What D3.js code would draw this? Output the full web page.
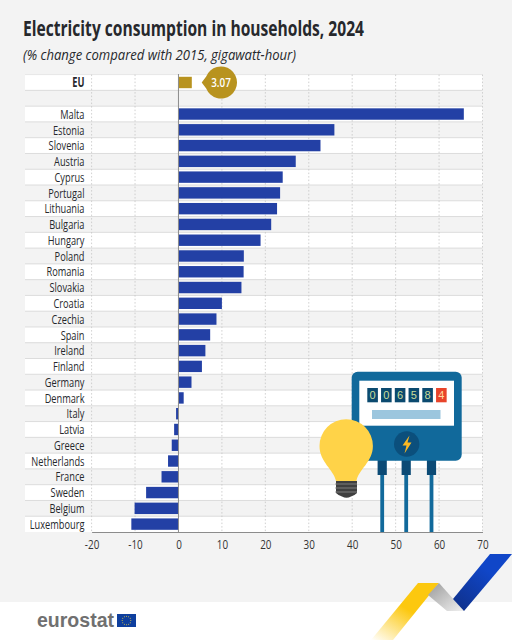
<!DOCTYPE html>
<html><head><meta charset="utf-8">
<script src="https://cdnjs.cloudflare.com/ajax/libs/d3/7.9.0/d3.min.js"></script>
<style>html,body{margin:0;padding:0;background:#fff}svg{display:block}
text{font-family:"Open Sans",sans-serif}</style></head>
<body><svg id="c" width="512" height="640"></svg>
<script>
const categories=["Malta","Estonia","Slovenia","Austria","Cyprus","Portugal","Lithuania","Bulgaria","Hungary","Poland","Romania","Slovakia","Croatia","Czechia","Spain","Ireland","Finland","Germany","Denmark","Italy","Latvia","Greece","Netherlands","France","Sweden","Belgium","Luxembourg"];
const values=[65.7,35.9,32.7,27,24,23.4,22.7,21.35,18.9,15.05,15,14.5,10,8.75,7.3,6.2,5.4,3,1.2,-0.55,-1,-1.55,-2.4,-3.9,-7.45,-10.1,-10.85];
const euLabel="EU", euValue=3.07;
const xTicks=[-20,-10,0,10,20,30,40,50,60,70];
const meterDigits=["0","0","6","5","8","4"];

const svg=d3.select("#c");
const x=d3.scaleLinear().domain([-20,70]).range([91.6,482.5]);
const rows=[euLabel,"__blank",...categories];
const y=d3.scaleBand().domain(rows).range([74.6,532]);
const bh=11.4, off=(y.bandwidth()-bh)/2;
const sx=0.69, tickSx=0.76;

svg.append("rect").attr("width",512).attr("height",602).attr("fill","#f3f3f3");

// stripes
svg.append("g").selectAll("rect").data(rows).join("rect")
 .attr("x",25).attr("width",457.5).attr("y",d=>y(d)).attr("height",y.bandwidth())
 .attr("fill",(d,i)=>i%2==0?"#ffffff":"#f3f3f3");
svg.append("g").selectAll("line").data(rows.slice(0,-1)).join("line")
 .attr("x1",25).attr("x2",482.5).attr("y1",d=>y(d)+y.bandwidth()).attr("y2",d=>y(d)+y.bandwidth())
 .attr("stroke","#dcdcdc").attr("stroke-width",1);
svg.append("line").attr("x1",25).attr("x2",482.5).attr("y1",74.6).attr("y2",74.6).attr("stroke","#e6e6e6");

// grid
svg.append("g").selectAll("line").data(xTicks.filter(d=>d!==0)).join("line")
 .attr("x1",d=>x(d)).attr("x2",d=>x(d)).attr("y1",74.6).attr("y2",532)
 .attr("stroke","#c4c4c4").attr("stroke-width",0.8).attr("stroke-dasharray","1.5 2");

// bars
svg.append("g").selectAll("rect").data(categories).join("rect")
 .attr("x",(d,i)=>Math.min(x(0),x(values[i]))).attr("width",(d,i)=>Math.abs(x(values[i])-x(0)))
 .attr("y",d=>y(d)+off).attr("height",bh).attr("fill","#2340a5");
svg.append("rect").attr("x",x(0)).attr("width",x(euValue)-x(0)).attr("y",y(euLabel)+off).attr("height",bh).attr("fill","#b8931f");

// zero & bottom axis
svg.append("line").attr("x1",x(0)).attr("x2",x(0)).attr("y1",74).attr("y2",532).attr("stroke","#8c8c8c").attr("stroke-width",1);
const ax=svg.append("g").attr("transform","translate(0,532)").call(d3.axisBottom(x).tickValues(xTicks).tickSize(0).tickFormat(d=>String(d)));
ax.select(".domain").attr("stroke","#8c8c8c").attr("stroke-width",1);
ax.selectAll("line").remove();
ax.selectAll("text").attr("y",0).attr("dy",0).attr("font-size",13).attr("fill","#333").attr("text-anchor","middle")
 .attr("transform",`translate(0,16.5) scale(${tickSx},1)`);

// category labels
svg.append("g").selectAll("text").data(rows.filter(d=>d!=="__blank")).join("text")
 .attr("transform",d=>`translate(84.5,${y(d)+y.bandwidth()/2+4.7}) scale(${sx},1)`).attr("text-anchor","end")
 .attr("font-size",13.4).attr("fill","#26282c").attr("font-weight",d=>d===euLabel?"700":"400").text(d=>d);

// EU callout
const ey=y(euLabel)+y.bandwidth()/2;
svg.append("path").attr("d",`M201.7 ${ey} L206.2 ${ey-6} A16 16 0 1 1 206.2 ${ey+6} Z`).attr("fill","#b8931f");
svg.append("text").attr("transform",`translate(221,${ey+4.6}) scale(${tickSx},1)`).attr("text-anchor","middle").attr("font-size",13).attr("font-weight",600).attr("fill","#fff").text(euValue);

// title
svg.append("text").attr("x",23).attr("y",36).attr("font-size",21.5).attr("font-weight",700).attr("fill","#26282c").attr("textLength",341).attr("lengthAdjust","spacingAndGlyphs").text("Electricity consumption in households, 2024");
svg.append("text").attr("x",23).attr("y",60).attr("font-size",14).attr("font-style","italic").attr("fill","#26282c").attr("textLength",273).attr("lengthAdjust","spacingAndGlyphs").text("(% change compared with 2015, gigawatt-hour)");

// meter illustration
const m=svg.append("g");
[382.2,406.2,431.5].forEach((cx,i)=>{
 m.append("rect").attr("x",cx-1.9).attr("y",470).attr("width",3.8).attr("height",62).attr("fill","#11699b");
 m.append("rect").attr("x",cx-4.6).attr("y",458).attr("width",9.2).attr("height",17).attr("fill","#0b4a75");
});
m.append("rect").attr("x",351.7).attr("y",371.7).attr("width",110).attr("height",89).attr("rx",6).attr("fill","#11699b");
m.append("rect").attr("x",359.3).attr("y",380.7).attr("width",94.7).attr("height",45).attr("fill","#fff");
meterDigits.forEach((d,i)=>{
 const dx=367.3+i*13.75;
 m.append("rect").attr("x",dx).attr("y",388).attr("width",10.6).attr("height",14.3).attr("fill",i==5?"#e8442a":"#0b4a6f");
 m.append("text").attr("x",dx+5.3).attr("y",399.3).attr("text-anchor","middle").attr("font-size",11).attr("fill",i==5?"#ffd9a0":"#c9dd9a").style("font-family",'"Liberation Sans",sans-serif').text(d);
});
m.append("rect").attr("x",372).attr("y",410).attr("width",68.5).attr("height",9).attr("fill","#9cc6de");
m.append("circle").attr("cx",406.7).attr("cy",444).attr("r",12.7).attr("fill","#0b4f7c");
m.append("path").attr("d","M409.5 435.5 L402.5 445.5 L406.5 445.5 L404.5 453.5 L411.5 442.5 L407.5 442.5 Z").attr("fill","#fbb822");
// bulb
const b=svg.append("g");
b.append("path").attr("d","M336 481 C334 470 319.5 462 319.5 446 A26.7 26.7 0 0 1 372.9 446 C372.9 462 358 470 356.5 481 Z").attr("fill","#ffd348");
b.append("path").attr("d","M336 481 h21 v12 q-3 3 -6 3.5 q-4.5 2.5 -9 0 q-3 -.5 -6 -3.5 Z").attr("fill","#3f3f3f");
[484,488,492].forEach(v=>b.append("line").attr("x1",335).attr("x2",357).attr("y1",v).attr("y2",v).attr("stroke","#8d8d8d").attr("stroke-width",.8));

// footer ribbons
const defs=svg.append("defs");
const g1=defs.append("linearGradient").attr("id","gy").attr("x1","0").attr("y1","1").attr("x2","0.45").attr("y2","0.4");
g1.append("stop").attr("offset",0).attr("stop-color","#fff");g1.append("stop").attr("offset",1).attr("stop-color","#fcc80f");
const g2=defs.append("linearGradient").attr("id","gg").attr("x1","0").attr("y1","0").attr("x2","1").attr("y2","1");
g2.append("stop").attr("offset",0).attr("stop-color","#9a9a9a");g2.append("stop").attr("offset",1).attr("stop-color","#f0f0f0");
const g3=defs.append("linearGradient").attr("id","gb").attr("x1","0").attr("y1","1").attr("x2","0.6").attr("y2","0.3");
g3.append("stop").attr("offset",0).attr("stop-color","#0f2f86");g3.append("stop").attr("offset",1).attr("stop-color","#1046c8");
svg.append("path").attr("d","M418 583 L439 583 L393 640 L371 640 Z").attr("fill","url(#gy)");
svg.append("path").attr("d","M439 583 L464 611 L447 611 L428 595 Z").attr("fill","url(#gg)");
svg.append("path").attr("d","M490 554 L512 554 L464 611 L453 599 Z").attr("fill","url(#gb)");

// logo
svg.append("text").attr("x",37).attr("y",627).attr("font-size",20).attr("font-weight",700).attr("fill","#707070").style("font-family",'"Liberation Sans",sans-serif').attr("textLength",77).attr("lengthAdjust","spacingAndGlyphs").text("eurostat");
svg.append("rect").attr("x",117).attr("y",614).attr("width",19).attr("height",13).attr("fill","#0e3f9e");
d3.range(12).forEach(i=>{const a=i/12*2*Math.PI;svg.append("circle").attr("cx",126.5+4.3*Math.cos(a)).attr("cy",620.5+4.3*Math.sin(a)).attr("r",.5).attr("fill","#f5d33b");});
</script></body></html>
